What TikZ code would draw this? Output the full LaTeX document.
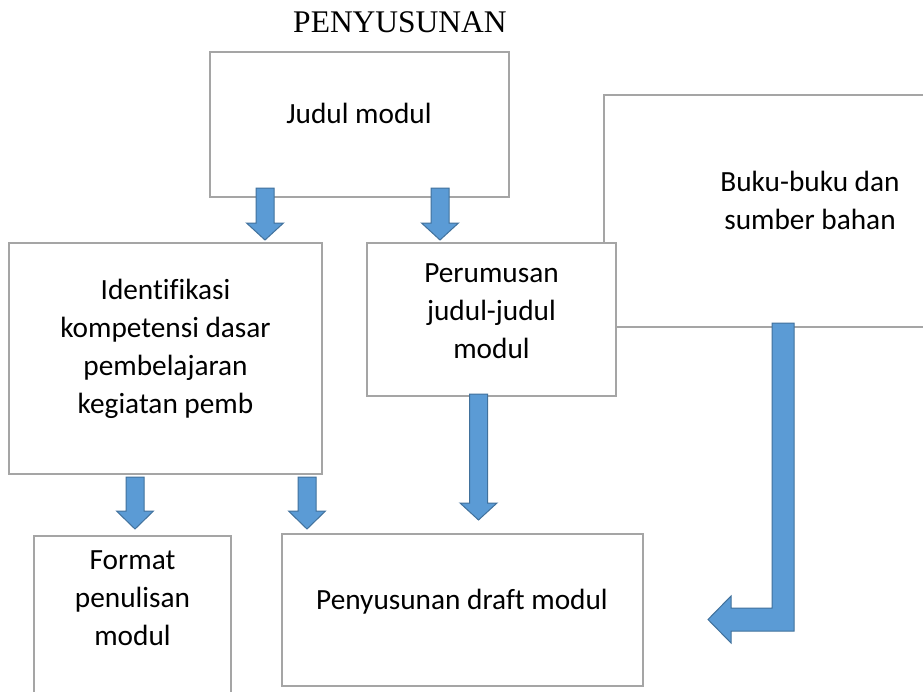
\documentclass[tikz,border=0pt]{standalone}
\usepackage{fontspec}
\setmainfont{Carlito}[Ligatures=NoCommon]
\newfontfamily\titlefont{Liberation Serif}
\definecolor{arrowblue}{HTML}{5B9BD5}
\definecolor{arrowedge}{HTML}{41719C}
\definecolor{boxgray}{HTML}{A5A5A5}
\newcommand\blockdown[4]{%
  \draw[blk] ({#1-9},#2) -- ({#1+9},#2) -- ({#1+9},#3) -- ({#1+18.5},#3) -- (#1,#4)
    -- ({#1-18.5},#3) -- ({#1-9},#3) -- cycle;}
\begin{document}
\begin{tikzpicture}[x=1pt,y=-1pt,
  box/.style={draw=boxgray, line width=1.6pt, fill=white, inner sep=0pt, outer sep=0pt, anchor=north west},
  txt/.style={font=\fontsize{29.3}{38}\selectfont, align=center, inner sep=0pt},
  blk/.style={fill=arrowblue, draw=arrowedge, line width=1pt, line join=miter}]
\useasboundingbox (0,0) rectangle (923,691);
\clip (0,0) rectangle (923,691);
\fill[white] (0,0) rectangle (923,691);
% title
\node[font=\titlefont\fontsize{31.5}{36}\selectfont, inner sep=0pt] (title) at (400,22.5) {PENYUSUNAN};
% boxes
\node[box, minimum width=412pt, minimum height=232pt] (buku) at (604,95) {};
\node[box, minimum width=299pt, minimum height=145pt] (judul) at (210,52) {};
\node[box, minimum width=249pt, minimum height=153pt] (perumusan) at (367,243) {};
\node[box, minimum width=313pt, minimum height=231pt] (ident) at (9,243) {};
\node[box, minimum width=197pt, minimum height=200pt] (format) at (34,536) {};
\node[box, minimum width=361pt, minimum height=152pt] (draft) at (282,534) {};
% texts
\node[txt] (tjudul) at (359,113) {Judul modul};
\node[txt] (tbuku) at (810,200) {Buku-buku dan\\sumber bahan};
\node[txt] (tperu) at (491.5,311) {Perumusan\\judul-judul\\modul};
\node[txt] (tident) at (165.5,348.5) {Identifikasi\\kompetensi dasar\\pembelajaran\\kegiatan pemb};
\node[txt] (tformat) at (132.5,598) {Format\\penulisan\\modul};
\node[txt] (tdraft) at (462,601.5) {Penyusunan draft modul};
% block arrows
\blockdown{265}{188}{223}{240}
\blockdown{440}{188}{223}{240}
\blockdown{135}{477}{511}{529}
\blockdown{307}{477}{511}{529}
\blockdown{478.5}{394}{503}{520}
\draw[blk] (772,323) -- (794,323) -- (794,631) -- (731,631) -- (731,643) -- (708,619.5)
  -- (731,596) -- (731,608) -- (772,608) -- cycle;
\end{tikzpicture}
\end{document}
